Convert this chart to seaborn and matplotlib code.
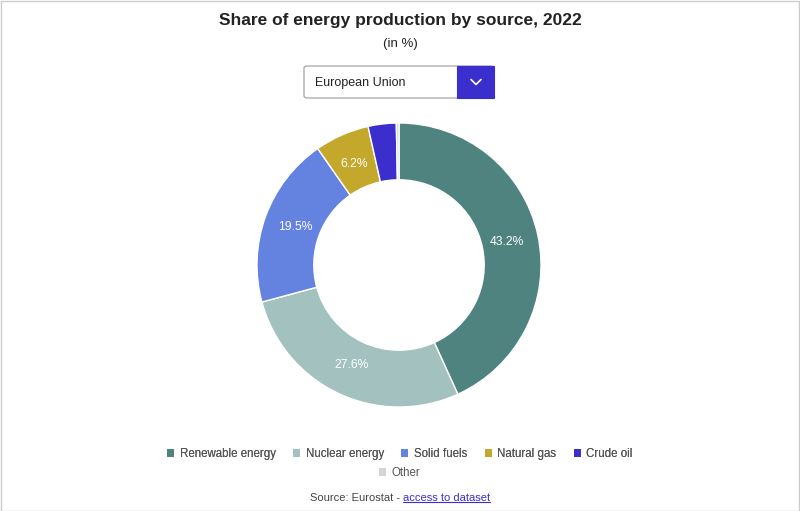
import matplotlib
matplotlib.use("Agg")
import matplotlib.pyplot as plt
import seaborn as sns
import numpy as np
from matplotlib.patches import FancyBboxPatch, Rectangle
from matplotlib.lines import Line2D

sns.set_theme(style="white")
plt.rcParams['font.family'] = ['Liberation Sans', 'DejaVu Sans']

categories = ["Renewable energy", "Nuclear energy", "Solid fuels", "Natural gas", "Crude oil", "Other"]
values = [43.2, 27.6, 19.5, 6.2, 3.2, 0.3]
colors = ["#4e8380", "#a3c1bf", "#6482df", "#c3a82c", "#3a2fcc", "#d4d4d4"]

W, H = 800, 511
fig = plt.figure(figsize=(W / 100, H / 100), dpi=100)
fig.patch.set_facecolor("white")

# outer border
fig.add_artist(Rectangle((0.5 / W, 0.5 / H), 1 - 1.5 / W, 1 - 1.5 / H, transform=fig.transFigure,
                         fill=False, edgecolor="#cccccc", linewidth=1))

# donut
cx, cy, r = 399, 265, 142
ax = fig.add_axes([(cx - r) / W, (H - cy - r) / H, 2 * r / W, 2 * r / H])
wedges, _ = ax.pie(values, colors=colors, startangle=90, counterclock=False,
                   radius=1.0, wedgeprops=dict(width=0.4, edgecolor="white", linewidth=1))
ax.set_xlim(-1, 1)
ax.set_ylim(-1, 1)
ax.set_aspect("equal")
ax.axis("off")

total = sum(values)
start = 90.0
for v in values:
    ang = start - v / total * 360 / 2
    start -= v / total * 360
    if v >= 5:
        lr = 0.78
        ax.text(lr * np.cos(np.radians(ang)), lr * np.sin(np.radians(ang)), f"{v:.1f}%",
                ha="center", va="center", color="white", fontsize=8.7)

# title
fig.text(0.5, 1 - 21 / H, "Share of energy production by source, 2022", ha="center", va="center",
         fontsize=12.5, fontweight="bold", color="#222222")
fig.text(0.5, 1 - 44 / H, "(in %)", ha="center", va="center", fontsize=9.5, color="#222222")

# dropdown
x0, x1, xs, y0, y1 = 304, 494, 457, 66, 98
fig.add_artist(FancyBboxPatch((x0 / W, 1 - y1 / H), (x1 - x0) / W, (y1 - y0) / H,
                              boxstyle="round,pad=0,rounding_size=0.004", transform=fig.transFigure,
                              facecolor="white", edgecolor="#9a9a9a", linewidth=0.8))
fig.add_artist(Rectangle((xs / W, 1 - y1 / H), (x1 - xs) / W, (y1 - y0) / H, transform=fig.transFigure,
                         facecolor="#3a2fcc", edgecolor="#3a2fcc", linewidth=0.8))
fig.text(315 / W, 1 - 83 / H, "European Union", ha="left", va="center", fontsize=9, color="#222222")
chx, chy = 476, 82
fig.add_artist(Line2D([(chx - 5) / W, chx / W, (chx + 5) / W], [1 - (chy - 2.5) / H, 1 - (chy + 2.5) / H, 1 - (chy - 2.5) / H],
                      transform=fig.transFigure, color="white", linewidth=1.2))

# legends
handles = [Rectangle((0, 0), 1, 1, facecolor=c, edgecolor="none") for c in colors]
leg1 = fig.legend(handles[:5], categories[:5], loc="center", bbox_to_anchor=(0.5, 1 - 454 / H),
                  ncol=5, frameon=False, fontsize=8.3, handlelength=0.6, handleheight=0.6,
                  handletextpad=0.5, columnspacing=1.5, labelcolor="#555555")
leg2 = fig.legend(handles[5:], categories[5:], loc="center", bbox_to_anchor=(0.5, 1 - 473 / H),
                  ncol=1, frameon=False, fontsize=8.3, handlelength=0.6, handleheight=0.6,
                  handletextpad=0.5, labelcolor="#555555")
fig.add_artist(leg1)

# source
renderer = fig.canvas.get_renderer()
t1 = fig.text(0.5, 1 - 498 / H, "Source: Eurostat - ", ha="left", va="center", fontsize=8, color="#444444")
t2 = fig.text(0.5, 1 - 498 / H, "access to dataset", ha="left", va="center", fontsize=8, color="#3a2fcc")
w1 = t1.get_window_extent(renderer).width
w2 = t2.get_window_extent(renderer).width
left = (W - (w1 + w2)) / 2
t1.set_x(left / W)
t2.set_x((left + w1) / W)
bb = t2.get_window_extent(renderer)
fig.add_artist(Line2D([(left + w1) / W, (left + w1 + w2) / W], [(bb.y0 + 1) / H, (bb.y0 + 1) / H],
                      transform=fig.transFigure, color="#3a2fcc", linewidth=0.8))

fig.savefig("out.png", dpi=100, facecolor="white")
